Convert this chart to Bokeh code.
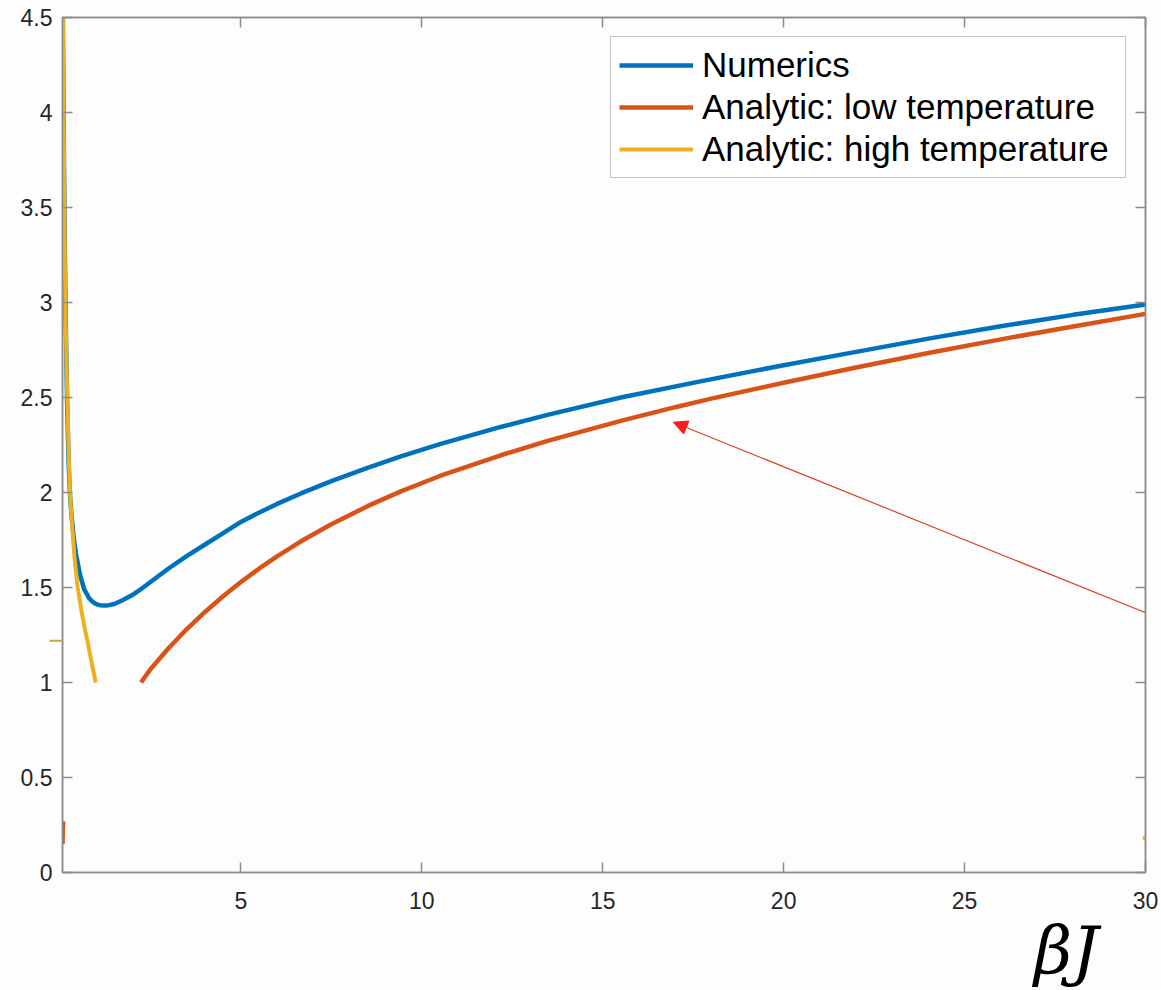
import numpy as np
from bokeh.plotting import figure
from bokeh.models import (LinearAxis, FixedTicker, Range1d, Legend, LegendItem,
                          Arrow, NormalHead, Title)
from bokeh.embed import file_html
from bokeh.resources import INLINE

nan = np.nan

# ---- data ----
num_x = [0.075, 0.08, 0.1, 0.12, 0.15, 0.2, 0.24, 0.28, 0.32, 0.38, 0.44, 0.55, 0.67,
         0.8, 0.9, 1.0, 1.1, 1.22, 1.35, 1.5, 1.7, 2.0, 2.3, 2.65, 3.0, 3.5, 4.0, 4.5,
         5.0, 5.41, 6.0, 6.66, 7.5, 8.5, 9.42, 10.5, 12.18, 13.5, 15.5, 17.7, 20.0,
         21.85, 24.0, 26.0, 28.0, 30.0]
num_y = [4.6, 4.5, 4.0, 3.55, 3.02, 2.45, 2.15, 1.98, 1.88, 1.76, 1.68, 1.57, 1.49,
         1.445, 1.425, 1.413, 1.407, 1.405, 1.407, 1.413, 1.43, 1.46, 1.5, 1.55, 1.6,
         1.665, 1.725, 1.785, 1.845, 1.885, 1.94, 1.995, 2.06, 2.13, 2.19, 2.255, 2.345,
         2.41, 2.5, 2.585, 2.67, 2.735, 2.81, 2.875, 2.935, 2.99]

low_x = [0.07, 0.085, nan, 2.24, 2.5, 3.0, 3.5, 4.0, 4.5, 5.0, 5.5, 6.0, 6.66, 7.5,
         8.5, 9.42, 10.5, 12.18, 13.5, 15.5, 17.0, 18.0, 20.0, 22.0, 24.0, 26.0, 28.0,
         30.0]
low_y = [0.15, 0.27, nan, 1.0, 1.07, 1.18, 1.28, 1.37, 1.453, 1.529, 1.599, 1.664,
         1.743, 1.833, 1.928, 2.006, 2.087, 2.196, 2.273, 2.377, 2.449, 2.494, 2.578,
         2.658, 2.734, 2.806, 2.874, 2.94]

high_x = [0.07, 0.08, 0.1, 0.12, 0.146, 0.18, 0.21, 0.24, 0.28, 0.33, 0.4, 0.49, 0.6,
          0.7, 0.77, 0.88, 0.99, nan, 29.93, 30.0]
high_y = [4.75, 4.5, 4.0, 3.54, 3.01, 2.7, 2.45, 2.2, 1.99, 1.84, 1.66, 1.50, 1.37,
          1.27, 1.21, 1.1, 1.0, nan, 0.185, 0.18]

series_labels = ["Numerics", "Analytic: low temperature", "Analytic: high temperature"]

x_ticks = [5, 10, 15, 20, 25, 30]
x_tick_labels = ["5", "10", "15", "20", "25", "30"]
y_ticks = [0, 0.5, 1, 1.5, 2, 2.5, 3, 3.5, 4, 4.5]
y_tick_labels = ["0", "0.5", "1", "1.5", "2", "2.5", "3", "3.5", "4", "4.5"]

x_label = "βJ"

# ---- styles ----
BLUE = "#0072BD"
ORANGE = "#D95319"
YELLOW = "#EDB120"
AXIS = "#8c8c8c"
TXT = "#262626"
FONT = "Liberation Sans"
BG = "#fdfdfd"

p = figure(width=1161, height=990,
           x_range=Range1d(0.07, 30), y_range=Range1d(0, 4.5),
           output_backend="svg", toolbar_location=None,
           min_border_left=62, min_border_right=16, min_border_top=17,
           min_border_bottom=118,
           background_fill_color=BG, border_fill_color=BG,
           x_axis_location=None, y_axis_location=None)
p.xgrid.visible = False
p.ygrid.visible = False
p.outline_line_color = AXIS
p.outline_line_width = 1.5


def style_axis(ax, ticks, labels, show_labels, standoff):
    ax.ticker = FixedTicker(ticks=ticks)
    ax.major_label_overrides = {float(t): l for t, l in zip(ticks, labels)} if show_labels else {}
    ax.axis_line_color = AXIS
    ax.axis_line_width = 1.5
    ax.major_tick_line_color = AXIS
    ax.major_tick_line_width = 1.5
    ax.major_tick_in = 10
    ax.major_tick_out = 0
    ax.minor_tick_line_color = None
    ax.major_label_text_font = FONT
    ax.major_label_text_color = TXT
    if show_labels:
        ax.major_label_text_font_size = "23px"
        ax.major_label_standoff = standoff
    else:
        ax.major_label_text_font_size = "0px"
        ax.major_label_standoff = 0


xb = LinearAxis()
style_axis(xb, x_ticks, x_tick_labels, True, 19)
p.add_layout(xb, "below")
xt = LinearAxis()
style_axis(xt, x_ticks, x_tick_labels, False, 0)
p.add_layout(xt, "above")
yl = LinearAxis()
style_axis(yl, y_ticks, y_tick_labels, True, 10)
p.add_layout(yl, "left")
yr = LinearAxis()
style_axis(yr, y_ticks, y_tick_labels, False, 0)
p.add_layout(yr, "right")

# x-axis label, placed at the lower right like the reference
p.add_layout(Title(text=x_label, align="right", offset=47, standoff=0,
                   vertical_align="top", text_font="DejaVu Serif",
                   text_font_style="italic", text_font_size="66px",
                   text_line_height=1.0, text_color="black"), "below")

r_num = p.line(num_x, num_y, line_color=BLUE, line_width=4.5)
r_low = p.line(low_x, low_y, line_color=ORANGE, line_width=4.5)
r_high = p.line(high_x, high_y, line_color=YELLOW, line_width=4)

legend = Legend(items=[LegendItem(label=series_labels[0], renderers=[r_num]),
                       LegendItem(label=series_labels[1], renderers=[r_low]),
                       LegendItem(label=series_labels[2], renderers=[r_high])],
                location="top_right", margin=19, padding=8, spacing=2,
                glyph_width=74, glyph_height=40, label_height=40, label_width=415,
                label_standoff=9,
                label_text_font=FONT, label_text_font_size="35px",
                label_text_color="black",
                border_line_color=AXIS, border_line_width=1.5,
                background_fill_color="white", background_fill_alpha=1.0)
p.add_layout(legend)

# annotation arrows (as in the reference screenshot)
p.add_layout(Arrow(x_start=-0.5, y_start=1.22, x_end=0.07, y_end=1.22,
                   line_color="#C9A646", line_width=2,
                   end=NormalHead(size=13, fill_color="#C49A2C", line_color="#C49A2C")))
p.add_layout(Arrow(x_start=30.3, y_start=1.344, x_end=16.95, y_end=2.37,
                   line_color="#D9472B", line_width=1.2,
                   end=NormalHead(size=14, fill_color="#FF1A1A", line_color="#FF1A1A")))

open("out.html", "w").write(file_html(p, INLINE))
